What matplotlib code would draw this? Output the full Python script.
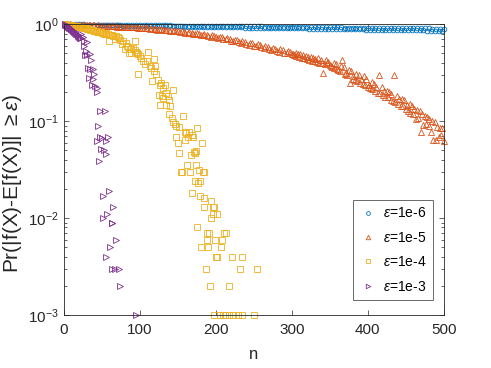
import numpy as np
import matplotlib
matplotlib.use("Agg")
import matplotlib.pyplot as plt

plt.rcParams['font.family'] = ['Liberation Sans', 'DejaVu Sans']
plt.rcParams['mathtext.fontset'] = 'custom'
plt.rcParams['mathtext.it'] = 'Liberation Sans:italic'
plt.rcParams['mathtext.rm'] = 'Liberation Sans'

# eps = 1e-6, two interleaved runs of n
n_e6 = np.arange(5, 501, 5)
p_e6 = [0.999, 0.998, 0.997, 0.997, 0.995, 0.994, 0.993, 0.993, 0.991, 0.990,
        0.989, 0.989, 0.987, 0.986, 0.985, 0.985, 0.983, 0.982, 0.981, 0.981,
        0.979, 0.978, 0.977, 0.977, 0.975, 0.974, 0.973, 0.973, 0.971, 0.970,
        0.969, 0.969, 0.967, 0.966, 0.965, 0.965, 0.963, 0.962, 0.961, 0.961,
        0.959, 0.958, 0.957, 0.957, 0.955, 0.954, 0.953, 0.953, 0.951, 0.950,
        0.949, 0.949, 0.947, 0.946, 0.945, 0.945, 0.943, 0.942, 0.941, 0.941,
        0.939, 0.938, 0.937, 0.937, 0.935, 0.934, 0.933, 0.933, 0.931, 0.930,
        0.929, 0.929, 0.927, 0.926, 0.925, 0.925, 0.923, 0.922, 0.921, 0.921,
        0.919, 0.918, 0.917, 0.917, 0.915, 0.914, 0.913, 0.913, 0.911, 0.910,
        0.909, 0.909, 0.907, 0.906, 0.905, 0.905, 0.903, 0.902, 0.901, 0.901]
n_e6b = np.arange(3, 501, 5)
p_e6b = [0.998, 0.994, 0.993, 0.991, 0.989, 0.987, 0.986, 0.984, 0.982, 0.980,
         0.979, 0.977, 0.975, 0.973, 0.972, 0.970, 0.968, 0.966, 0.965, 0.963,
         0.962, 0.961, 0.959, 0.958, 0.957, 0.955, 0.954, 0.953, 0.951, 0.950,
         0.949, 0.947, 0.946, 0.945, 0.943, 0.942, 0.941, 0.939, 0.938, 0.937,
         0.935, 0.934, 0.933, 0.931, 0.930, 0.929, 0.927, 0.926, 0.925, 0.923,
         0.922, 0.921, 0.919, 0.918, 0.917, 0.915, 0.914, 0.913, 0.911, 0.910,
         0.909, 0.907, 0.906, 0.905, 0.903, 0.902, 0.901, 0.899, 0.898, 0.897,
         0.895, 0.894, 0.893, 0.891, 0.890, 0.889, 0.887, 0.886, 0.885, 0.883,
         0.882, 0.881, 0.879, 0.878, 0.877, 0.875, 0.874, 0.873, 0.871, 0.870,
         0.869, 0.867, 0.866, 0.865, 0.863, 0.862, 0.861, 0.859, 0.858, 0.857]

# eps = 1e-5
n_e5 = np.arange(5, 501, 5)
p_e5 = [0.997, 0.993, 0.990, 0.988, 0.984, 0.982, 0.978, 0.975, 0.972, 0.967,
        0.965, 0.955, 0.957, 0.948, 0.949, 0.940, 0.942, 0.931, 0.933, 0.921,
        0.918, 0.905, 0.906, 0.890, 0.893, 0.874, 0.879, 0.860, 0.864, 0.846,
        0.848, 0.822, 0.826, 0.800, 0.812, 0.778, 0.790, 0.758, 0.772, 0.741,
        0.748, 0.710, 0.720, 0.680, 0.695, 0.652, 0.670, 0.625, 0.645, 0.600,
        0.620, 0.580, 0.595, 0.552, 0.572, 0.528, 0.550, 0.505, 0.530, 0.488,
        0.510, 0.462, 0.485, 0.440, 0.465, 0.418, 0.445, 0.395, 0.430, 0.380,
        0.400, 0.345, 0.370, 0.305, 0.335, 0.275, 0.310, 0.250, 0.290, 0.228,
        0.252, 0.205, 0.300, 0.185, 0.205, 0.165, 0.300, 0.150, 0.170, 0.135,
        0.150, 0.118, 0.130, 0.078, 0.112, 0.090, 0.100, 0.064, 0.085, 0.062]
n_e5b = np.arange(3, 501, 5)
p_e5b = [0.999, 0.995, 0.991, 0.989, 0.985, 0.980, 0.978, 0.973, 0.969, 0.966,
         0.962, 0.960, 0.952, 0.953, 0.944, 0.946, 0.936, 0.938, 0.927, 0.926,
         0.912, 0.914, 0.898, 0.900, 0.882, 0.886, 0.868, 0.870, 0.852, 0.857,
         0.836, 0.838, 0.812, 0.818, 0.790, 0.796, 0.768, 0.775, 0.748, 0.755,
         0.728, 0.735, 0.700, 0.708, 0.672, 0.685, 0.645, 0.660, 0.618, 0.635,
         0.598, 0.612, 0.570, 0.585, 0.545, 0.562, 0.520, 0.540, 0.500, 0.518,
         0.478, 0.498, 0.452, 0.475, 0.428, 0.452, 0.405, 0.432, 0.388, 0.412,
         0.365, 0.392, 0.330, 0.362, 0.300, 0.330, 0.268, 0.300, 0.240, 0.270,
         0.222, 0.240, 0.195, 0.225, 0.178, 0.200, 0.160, 0.182, 0.145, 0.165,
         0.128, 0.142, 0.106, 0.128, 0.092, 0.110, 0.078, 0.098, 0.068, 0.085]
n_e5c = np.arange(301, 501, 5)
p_e5c = [0.495, 0.470, 0.488, 0.445, 0.462, 0.420, 0.440, 0.400, 0.316, 0.395,
         0.372, 0.350, 0.340, 0.430, 0.318, 0.249, 0.290, 0.262, 0.275, 0.238,
         0.235, 0.215, 0.228, 0.195, 0.205, 0.178, 0.190, 0.158, 0.170, 0.142,
         0.148, 0.122, 0.135, 0.108, 0.118, 0.094, 0.105, 0.064, 0.088, 0.072]

# eps = 1e-4
n_e4 = [1, 4, 7, 10, 13, 16, 19, 22, 25, 28, 31, 34, 37, 40, 43, 46, 49, 52, 55, 58,
        60, 62, 64, 65, 67, 69, 71, 72, 74, 76, 78, 80, 82, 83, 85, 86, 87, 88, 89, 91,
        93, 94, 95, 96, 97, 98, 100, 102, 104, 107, 109, 111, 113, 115, 116, 118, 119, 120, 121, 124,
        125, 126, 127, 128, 129, 130, 131, 133, 134, 135, 137, 138, 139, 140, 142, 143, 144, 146, 147, 148,
        150, 151, 152, 154, 155, 157, 159, 160, 161, 162, 163, 165, 166, 167, 168, 169, 170, 171, 172, 173,
        174, 174, 175, 175, 177, 178, 179, 179, 181, 182, 183, 184, 184, 185, 187, 188, 189, 190, 191, 192,
        193, 194, 196, 196, 197, 198, 199, 200, 201, 202, 205, 207, 208, 209, 211, 212, 214, 217, 217, 221,
        223, 229, 232, 234, 235, 250, 254,
        2, 5, 8, 11, 14, 17, 20, 23, 26, 29, 32, 35, 38, 41, 44, 47, 50, 53, 56, 59]
p_e4 = [1.0, 0.994, 0.987, 0.978, 0.968, 0.957, 0.948, 0.934, 0.925, 0.910, 0.902, 0.887, 0.879, 0.862, 0.856, 0.838, 0.832, 0.812, 0.806, 0.790,
        0.676, 0.780, 0.770, 0.760, 0.703, 0.762, 0.740, 0.720, 0.687, 0.624, 0.665, 0.553, 0.634, 0.600, 0.585, 0.511, 0.553, 0.560, 0.511, 0.575,
        0.665, 0.540, 0.520, 0.500, 0.309, 0.499, 0.472, 0.453, 0.419, 0.386, 0.419, 0.523, 0.371, 0.356, 0.259, 0.329, 0.435, 0.371, 0.304, 0.269,
        0.188, 0.239, 0.146, 0.249, 0.181, 0.221, 0.174, 0.239, 0.146, 0.196, 0.181, 0.119, 0.167, 0.142, 0.107, 0.212, 0.099, 0.093, 0.069, 0.090,
        0.060, 0.047, 0.088, 0.030, 0.030, 0.112, 0.078, 0.064, 0.075, 0.035, 0.069, 0.077, 0.030, 0.045, 0.072, 0.018, 0.069, 0.048, 0.024, 0.047,
        0.035, 0.049, 0.008, 0.086, 0.023, 0.031, 0.024, 0.017, 0.005, 0.059, 0.030, 0.030, 0.013, 0.016, 0.003, 0.007, 0.006, 0.005, 0.007, 0.002,
        0.015, 0.010, 0.013, 0.011, 0.013, 0.001, 0.006, 0.004, 0.011, 0.004, 0.001, 0.005, 0.006, 0.001, 0.007, 0.001, 0.007, 0.002, 0.001, 0.004,
        0.001, 0.001, 0.003, 0.001, 0.004, 0.001, 0.003,
        0.998, 0.990, 0.982, 0.972, 0.962, 0.950, 0.940, 0.928, 0.918, 0.905, 0.893, 0.880, 0.866, 0.852, 0.840, 0.826, 0.815, 0.800, 0.785, 0.770]

# eps = 1e-3
n_e3 = [1, 2, 3, 4, 5, 6, 7, 8, 9, 10, 11, 12, 13, 14, 15, 16, 17, 18, 19, 20,
        21, 22, 23, 25, 26, 27, 28, 29, 30, 31, 32, 33, 34, 35, 36, 37, 38, 39, 40, 41,
        43, 43, 44, 45, 46, 47, 49, 50, 52, 53, 54, 55, 56, 56, 57, 58, 60, 61, 63, 64,
        65, 67, 69, 72, 74, 95, 48, 52, 63]
p_e3 = [1.0, 0.99, 0.975, 0.965, 0.95, 0.94, 0.925, 0.915, 0.90, 0.89, 0.875, 0.86, 0.85, 0.83, 0.81, 0.80, 0.785, 0.77, 0.76, 0.745,
        0.73, 0.72, 0.79, 0.745, 0.60, 0.676, 0.483, 0.53, 0.65, 0.483, 0.356, 0.276, 0.499, 0.343, 0.425, 0.239, 0.343, 0.27, 0.309, 0.23,
        0.221, 0.20, 0.062, 0.090, 0.039, 0.128, 0.052, 0.0665, 0.017, 0.050, 0.128, 0.046, 0.004, 0.062, 0.011, 0.068, 0.019, 0.005, 0.009, 0.009,
        0.013, 0.003, 0.006, 0.003, 0.002, 0.001, 0.068, 0.010, 0.003]

cols = ['#0072BD', '#D95319', '#EDB120', '#7E2F8E']
labels = [r'$\epsilon$=1e-6', r'$\epsilon$=1e-5', r'$\epsilon$=1e-4', r'$\epsilon$=1e-3']

fig = plt.figure(figsize=(4.91, 3.68), dpi=100)
ax = fig.add_axes([0.130, 0.144, 0.774, 0.790])

kw = dict(linestyle='none', fillstyle='none', markeredgewidth=0.6, clip_on=False)
ax.plot(np.concatenate([n_e6, n_e6b]), p_e6 + p_e6b, marker='o', markersize=3.4,
        color=cols[0], label=labels[0], **kw)
ax.plot(np.concatenate([n_e5, n_e5b, n_e5c]), p_e5 + p_e5b + p_e5c, marker='^', markersize=4,
        color=cols[1], label=labels[1], **kw)
ax.plot(n_e4, p_e4, marker='s', markersize=3.7, color=cols[2], label=labels[2], **kw)
ax.plot(n_e3, p_e3, marker='>', markersize=4, color=cols[3], label=labels[3], **kw)

ax.set_yscale('log')
ax.set_xlim(0, 500)
ax.set_ylim(1e-3, 1)
ax.set_xticks([0, 100, 200, 300, 400, 500])
ax.tick_params(which='both', direction='in', top=True, right=True, labelsize=11, colors='#262626')
ax.tick_params(which='major', length=3.5, width=0.5)
ax.tick_params(axis='x', which='major', pad=6)
ax.tick_params(which='minor', length=2, width=0.5)
for s in ax.spines.values():
    s.set_color('#262626')
    s.set_linewidth(0.6)

ax.set_xlabel('n', fontsize=12, color='#262626', labelpad=7)
ax.set_ylabel(r'Pr(|f(X)-E[f(X)]| $\geq\epsilon$)', fontsize=15, color='#262626')
ax.yaxis.set_label_coords(-0.105, 0.453)

leg = ax.legend(loc='lower right', bbox_to_anchor=(0.971, 0.052), borderaxespad=0,
                fancybox=False, fontsize=10, handletextpad=0.5, handlelength=1.2,
                labelspacing=0.75, borderpad=0.45, markerscale=0.8)
leg.get_frame().set_edgecolor('#262626')
leg.get_frame().set_linewidth(0.6)

fig.savefig('out.png', dpi=100)
